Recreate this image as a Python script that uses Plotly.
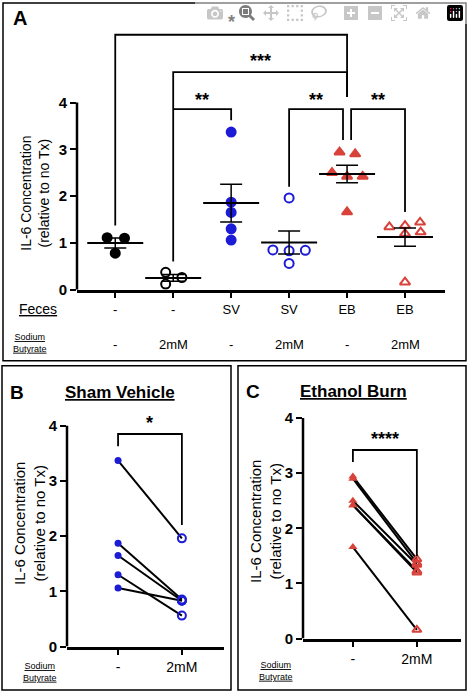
import numpy as np
import plotly.graph_objects as go

# ---- data ----
feces = ["-", "-", "SV", "SV", "EB", "EB"]
butyrate = ["-", "2mM", "-", "2mM", "-", "2mM"]
g_none = [1.11, 1.10, 0.78]
g_none_bu = [0.37, 0.26, 0.12]
g_sv = [3.37, 1.87, 1.65, 1.30, 1.06]
g_sv_bu = [1.96, 0.85, 0.83, 0.84, 0.56]
g_eb = [2.94, 2.90, 2.50, 2.42, 2.42, 1.66]
g_eb_bu = [1.44, 1.37, 1.34, 1.23, 1.20, 0.16]
# jitter offsets (category units)
j_none = [-0.14, 0.16, 0.0]
j_none_bu = [-0.13, 0.15, -0.13]
j_sv = [0, 0, 0, 0, 0]
j_sv_bu = [0, -0.28, 0, 0.28, 0]
j_eb = [-0.13, 0.14, -0.26, 0.0, 0.27, 0.0]
j_eb_bu = [0.26, 0.0, -0.27, 0.27, 0.0, 0.0]
# paired data
sv_pre = [3.37, 1.87, 1.65, 1.30, 1.06]
sv_post = [1.96, 0.85, 0.83, 0.56, 0.83]
eb_pre = [2.94, 2.90, 2.50, 2.42, 2.42, 1.66]
eb_post = [1.44, 1.37, 1.34, 1.23, 1.20, 0.16]

BLUE = "#1c1cd6"
RED = "#d8423b"
FONT = "Liberation Sans"
W, H = 469, 700
def X(px): return px / W
def Y(px): return 1 - px / H

fig = go.Figure()

groups = [
    (g_none, j_none, "circle", "black"),
    (g_none_bu, j_none_bu, "circle-open", "black"),
    (g_sv, j_sv, "circle", BLUE),
    (g_sv_bu, j_sv_bu, "circle-open", BLUE),
    (g_eb, j_eb, "triangle-up", RED),
    (g_eb_bu, j_eb_bu, "triangle-up-open", RED),
]
for i, (vals, jit, sym, col) in enumerate(groups):
    fig.add_trace(go.Scatter(x=[i + j for j in jit], y=vals, mode="markers",
                             marker=dict(symbol=sym, size=9, color=col, line=dict(width=2, color=col)),
                             xaxis="x", yaxis="y", showlegend=False))
    m = float(np.mean(vals)); sem = float(np.std(vals, ddof=1) / np.sqrt(len(vals)))
    fig.add_trace(go.Scatter(x=[i], y=[m], mode="markers",
                             marker=dict(symbol="line-ew", size=40, line=dict(width=2, color="black")),
                             error_y=dict(type="data", array=[sem], color="black", thickness=1.5, width=11),
                             xaxis="x", yaxis="y", showlegend=False))

# panel B
for a, b in zip(sv_pre, sv_post):
    fig.add_trace(go.Scatter(x=[0, 1], y=[a, b], mode="lines", line=dict(color="black", width=2),
                             xaxis="x2", yaxis="y2", showlegend=False))
fig.add_trace(go.Scatter(x=[0] * len(sv_pre), y=sv_pre, mode="markers",
                         marker=dict(symbol="circle", size=7, color=BLUE), xaxis="x2", yaxis="y2", showlegend=False))
fig.add_trace(go.Scatter(x=[1] * len(sv_post), y=sv_post, mode="markers",
                         marker=dict(symbol="circle-open", size=8, color=BLUE, line=dict(width=2, color=BLUE)),
                         xaxis="x2", yaxis="y2", showlegend=False))
# panel C
for a, b in zip(eb_pre, eb_post):
    fig.add_trace(go.Scatter(x=[0, 1], y=[a, b], mode="lines", line=dict(color="black", width=2),
                             xaxis="x3", yaxis="y3", showlegend=False))
fig.add_trace(go.Scatter(x=[0] * len(eb_pre), y=eb_pre, mode="markers",
                         marker=dict(symbol="triangle-up", size=8, color=RED), xaxis="x3", yaxis="y3", showlegend=False))
fig.add_trace(go.Scatter(x=[1] * len(eb_post), y=eb_post, mode="markers",
                         marker=dict(symbol="triangle-up-open", size=8, color=RED, line=dict(width=2, color=RED)),
                         xaxis="x3", yaxis="y3", showlegend=False))

tickf = dict(family=FONT, size=15, color="black")
def xax(dom, rng, txt, size):
    return dict(domain=dom, range=rng, tickvals=list(range(len(txt))), ticktext=txt,
                showline=True, linewidth=2.5, linecolor="black", ticks="outside", ticklen=6,
                tickwidth=2, tickcolor="black", showgrid=False, zeroline=False,
                tickfont=dict(family=FONT, size=size, color="black"), fixedrange=True)
def yax(dom, rng, anchor):
    return dict(domain=dom, range=rng, anchor=anchor, tickvals=[0, 1, 2, 3, 4],
                ticktext=["<b>0</b>", "<b>1</b>", "<b>2</b>", "<b>3</b>", "<b>4</b>"],
                showline=False, ticks="outside", ticklen=6, tickwidth=2, tickcolor="black",
                showgrid=False, zeroline=False, tickfont=tickf)

fig.update_layout(
    width=W, height=H, margin=dict(l=0, r=0, t=0, b=0),
    paper_bgcolor="white", plot_bgcolor="white",
    xaxis=dict(**xax([X(77), X(445)], [-0.66, 5.69], feces, 13), anchor="y"),
    yaxis=yax([Y(293), Y(20)], [0, 5.77], "x"),
    xaxis2=dict(**xax([X(67), X(224)], [-0.8, 1.66], ["-", "2mM"], 14), anchor="y2"),
    yaxis2=yax([Y(654), Y(410)], [0, 4.37], "x2"),
    xaxis3=dict(**xax([X(303), X(461)], [-0.78, 1.69], ["-", "2mM"], 14), anchor="y3"),
    yaxis3=yax([Y(646), Y(410)], [0, 4.23], "x3"),
)

shapes = []
for x0, x1, y0, y1 in [(3, 466, 3, 365), (2, 231, 370, 698), (238, 466, 370, 698)]:
    shapes.append(dict(type="rect", xref="paper", yref="paper", x0=X(x0), x1=X(x1), y0=Y(y1), y1=Y(y0),
                       line=dict(color="black", width=1.5)))
for xr, yr in [("x", "y"), ("x2", "y2"), ("x3", "y3")]:
    shapes.append(dict(type="line", xref=xr + " domain", yref=yr, x0=0, x1=0, y0=0, y1=4,
                       line=dict(color="black", width=2.5)))
def bracket(xr, yr, xa, ya, yt, xb, yb):
    shapes.append(dict(type="path", xref=xr, yref=yr,
                       path=f"M {xa},{ya} L {xa},{yt} L {xb},{yt} L {xb},{yb}",
                       line=dict(color="black", width=1.8)))
bracket("x", "y", 0, 1.37, 5.45, 4, 4.12)
bracket("x", "y", 1, 0.6, 4.65, 4, 4.12)
bracket("x", "y", 1, 3.86, 3.86, 2, 3.62)
bracket("x", "y", 3, 2.2, 3.86, 3.93, 3.2)
bracket("x", "y", 4.07, 3.2, 3.86, 5, 1.66)
bracket("x2", "y2", 0, 3.63, 3.85, 1, 2.2)
bracket("x3", "y3", 0, 3.2, 3.42, 1, 1.5)
fig.update_layout(shapes=shapes)

ann = []
def star(xr, yr, x, y, t):
    ann.append(dict(xref=xr, yref=yr, x=x, y=y, text=f"<b>{t}</b>", showarrow=False,
                    xanchor="center", yanchor="middle",
                    font=dict(family=FONT, size=18, color="black")))
star("x", "y", 2, 5.72, "*")
star("x", "y", 2.5, 4.88, "***")
star("x", "y", 1.5, 4.05, "**")
star("x", "y", 3.47, 4.05, "**")
star("x", "y", 4.53, 4.05, "**")
star("x2", "y2", 0.5, 4.05, "*")
star("x3", "y3", 0.5, 3.62, "****")

def ptext(x, y, t, size, **kw):
    ann.append(dict(xref="paper", yref="paper", x=X(x), y=Y(y), text=t, showarrow=False,
                    xanchor="center", yanchor="middle",
                    font=dict(family=FONT, size=size, color="black"), **kw))
ptext(20, 18, "<b>A</b>", 20)
ptext(17, 397, "<b>B</b>", 19)
ptext(120, 397, "<b><u>Sham Vehicle</u></b>", 17)
ptext(253, 396, "<b>C</b>", 19)
ptext(353, 396, "<b><u>Ethanol Burn</u></b>", 17)
ptext(38, 313, "<u>Feces</u>", 14)
ptext(30, 347, "<u>Sodium</u><br><u>Butyrate</u>", 9)
for i, t in enumerate(butyrate):
    ptext(115 + 58 * i, 348, t, 13)
ptext(40, 680, "<u>Sodium</u><br><u>Butyrate</u>", 9)
ptext(276, 679, "<u>Sodium</u><br><u>Butyrate</u>", 9)
ptext(35, 196, "IL-6 Concentration<br>(relative to no Tx)", 14, textangle=-90)
ptext(30, 530, "IL-6 Concentration<br>(relative to no Tx)", 15, textangle=-90)
ptext(266, 528, "IL-6 Concentration<br>(relative to no Tx)", 15, textangle=-90)
fig.update_layout(annotations=ann)

fig.write_html("out.html")
with open("out.html", encoding="utf-8") as f:
    html = f.read()
html = html.replace("<body>", "<body style=\"margin:0;overflow:hidden\">", 1)
with open("out.html", "w", encoding="utf-8") as f:
    f.write(html)
